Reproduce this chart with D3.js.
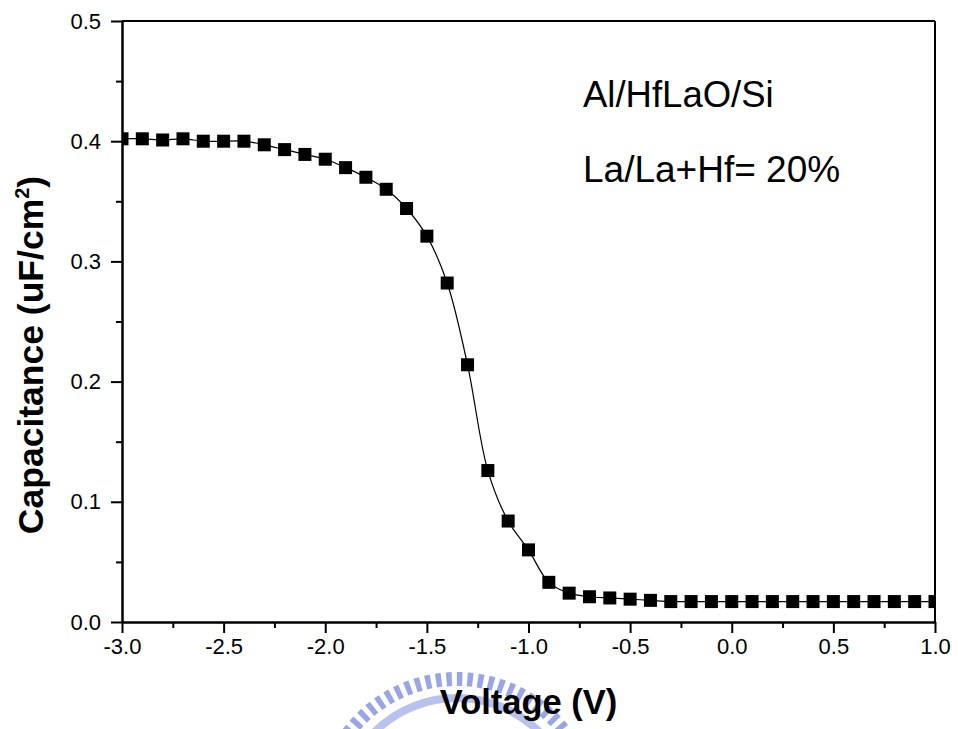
<!DOCTYPE html>
<html lang="en">
<head>
    <meta charset="UTF-8">
    <title>C-V curve Al/HfLaO/Si</title>
    <script src="https://d3js.org/d3.v7.min.js"></script>
    <style>
        body {
            margin: 0;
            background: #fff;
        }
        svg text {
            font-family: Arial, "Liberation Sans", sans-serif;
            fill: #000;
        }
        .axis path, .axis line {
            stroke: #000;
            stroke-width: 2px;
        }
    </style>
</head>
<body>
<div id="chart"></div>
<script>
    // Voltage (V) and capacitance (uF/cm^2)
    const voltage = [
        -3.0, -2.9, -2.8, -2.7, -2.6, -2.5, -2.4, -2.3, -2.2, -2.1,
        -2.0, -1.9, -1.8, -1.7, -1.6, -1.5, -1.4, -1.3, -1.2, -1.1,
        -1.0, -0.9, -0.8, -0.7, -0.6, -0.5, -0.4, -0.3, -0.2, -0.1,
        0.0, 0.1, 0.2, 0.3, 0.4, 0.5, 0.6, 0.7, 0.8, 0.9, 1.0
    ];
    const capacitance = [
        0.402, 0.402, 0.401, 0.402, 0.400, 0.400, 0.400, 0.397, 0.393, 0.389,
        0.385, 0.378, 0.370, 0.360, 0.344, 0.321, 0.282, 0.214, 0.126, 0.084,
        0.060, 0.033, 0.024, 0.021, 0.020, 0.019, 0.018, 0.017, 0.017, 0.017,
        0.017, 0.017, 0.017, 0.017, 0.017, 0.017, 0.017, 0.017, 0.017, 0.017, 0.017
    ];
    const xTicks = [-3.0, -2.5, -2.0, -1.5, -1.0, -0.5, 0.0, 0.5, 1.0];
    const xMinorTicks = [-2.75, -2.25, -1.75, -1.25, -0.75, -0.25, 0.25, 0.75];
    const yTicks = [0.0, 0.1, 0.2, 0.3, 0.4, 0.5];
    const yMinorTicks = [0.05, 0.15, 0.25, 0.35, 0.45];
    const notes = ["Al/HfLaO/Si", "La/La+Hf= 20%"];

    const width = 958, height = 729;
    const margin = {top: 21, right: 23, bottom: 107, left: 122};
    const plotW = width - margin.left - margin.right;
    const plotH = height - margin.top - margin.bottom;

    const svg = d3.select("#chart").append("svg")
        .attr("width", width)
        .attr("height", height);

    // faint watermark behind the x axis title
    const wm = svg.append("g").attr("transform", "translate(457,815)");
    wm.append("circle")
        .attr("r", 136)
        .attr("fill", "none")
        .attr("stroke", "#8797de")
        .attr("stroke-opacity", 0.85)
        .attr("stroke-width", 14)
        .attr("stroke-dasharray", "5.5 5");
    wm.append("circle")
        .attr("r", 117)
        .attr("fill", "none")
        .attr("stroke", "#b9c2ef")
        .attr("stroke-width", 8);

    const x = d3.scaleLinear().domain([-3.0, 1.0]).range([0, plotW]);
    const y = d3.scaleLinear().domain([0, 0.5]).range([plotH, 0]);

    const g = svg.append("g")
        .attr("transform", `translate(${margin.left},${margin.top})`);

    g.append("clipPath").attr("id", "plot-clip")
        .append("rect").attr("width", plotW).attr("height", plotH);

    // top and right frame
    g.append("line").attr("x1", 0).attr("x2", plotW).attr("y1", 0).attr("y2", 0)
        .attr("stroke", "#000").attr("stroke-width", 2);
    g.append("line").attr("x1", plotW).attr("x2", plotW).attr("y1", 0).attr("y2", plotH)
        .attr("stroke", "#000").attr("stroke-width", 2);

    // minor ticks
    g.append("g").attr("class", "axis")
        .attr("transform", `translate(0,${plotH})`)
        .call(d3.axisBottom(x).tickValues(xMinorTicks).tickSize(6).tickSizeOuter(0).tickFormat(""));
    g.append("g").attr("class", "axis")
        .call(d3.axisLeft(y).tickValues(yMinorTicks).tickSize(6).tickSizeOuter(0).tickFormat(""));

    // major ticks + labels
    const xAxisG = g.append("g").attr("class", "axis")
        .attr("transform", `translate(0,${plotH})`)
        .call(d3.axisBottom(x).tickValues(xTicks).tickSize(11).tickSizeOuter(0).tickPadding(5)
            .tickFormat(d => d.toFixed(1)));
    const yAxisG = g.append("g").attr("class", "axis")
        .call(d3.axisLeft(y).tickValues(yTicks).tickSize(11).tickSizeOuter(0).tickPadding(10)
            .tickFormat(d => d.toFixed(1)));
    [xAxisG, yAxisG].forEach(a => a.selectAll("text")
        .style("font-size", "22px")
        .style("font-family", "Arial, 'Liberation Sans', sans-serif"));

    const points = voltage.map((v, i) => ({v: v, c: capacitance[i]}));

    const line = d3.line()
        .x(d => x(d.v))
        .y(d => y(d.c))
        .curve(d3.curveCatmullRom);

    const dataG = g.append("g").attr("clip-path", "url(#plot-clip)");
    dataG.append("path")
        .datum(points)
        .attr("d", line)
        .attr("fill", "none")
        .attr("stroke", "#000")
        .attr("stroke-width", 1.2);

    const ms = 13;
    dataG.selectAll("rect.pt")
        .data(points)
        .enter().append("rect")
        .attr("class", "pt")
        .attr("x", d => x(d.v) - ms / 2)
        .attr("y", d => y(d.c) - ms / 2)
        .attr("width", ms)
        .attr("height", ms)
        .attr("fill", "#000");

    // annotations
    g.append("text")
        .attr("x", 461).attr("y", 86)
        .style("font-size", "36.5px")
        .text(notes[0]);
    g.append("text")
        .attr("x", 461).attr("y", 161)
        .style("font-size", "37px")
        .text(notes[1]);

    // axis titles
    svg.append("text")
        .attr("x", margin.left + plotW / 2)
        .attr("y", 714)
        .attr("text-anchor", "middle")
        .style("font-size", "34.5px")
        .style("font-weight", "bold")
        .text("Voltage (V)");

    const yt = svg.append("text")
        .attr("transform", "translate(43,355) rotate(-90)")
        .attr("text-anchor", "middle")
        .style("font-size", "35.5px")
        .style("font-weight", "bold");
    yt.append("tspan").text("Capacitance (uF/cm");
    yt.append("tspan").attr("dy", -14).style("font-size", "20px").text("2");
    yt.append("tspan").attr("dy", 14).text(")");
</script>
</body>
</html>
